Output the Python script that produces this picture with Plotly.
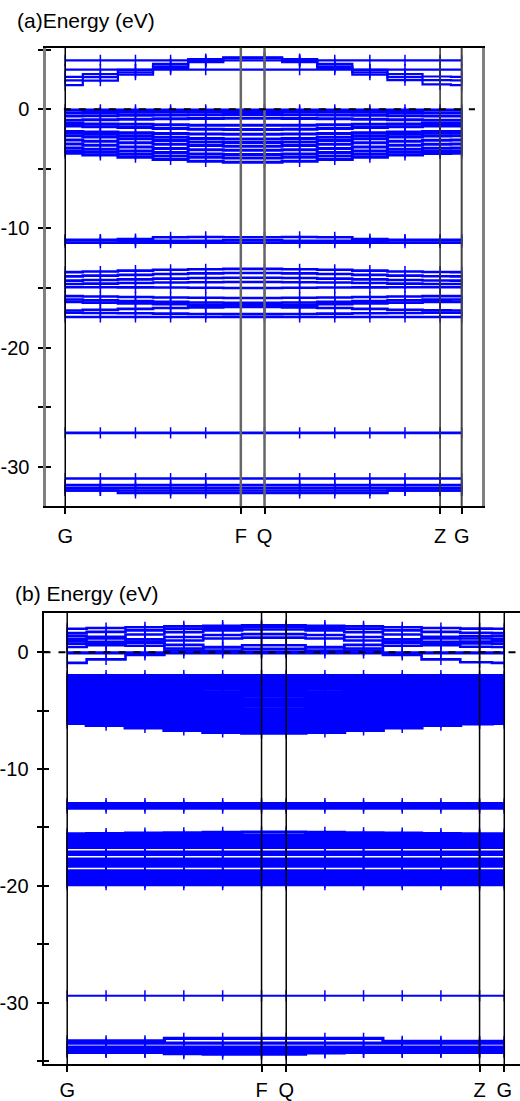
import plotly.graph_objects as go

# ---------------- data: panel (a) ----------------
k_a = [0, 0.2, 0.4, 0.6, 0.8, 1.0, 1.135, 1.335, 1.535, 1.735, 1.935, 2.135, 2.258]
ksym_a = [0, 1.0, 1.135, 2.135, 2.258]
klab = ["G", "F", "Q", "Z", "G"]

flat_a_cond = [4.11, 3.33]
flat_a = [-0.05, -11.2, -17.44, -27.17, -31.0, -31.55, -31.8, -32.0]

disp_a_cond = [
    [2.03, 2.40, 2.90, 3.45, 3.95, 4.28, 4.28, 3.95, 3.45, 2.90, 2.45, 2.08, 2.03],
    [2.42, 2.70, 3.10, 3.60, 4.05, 4.32, 4.32, 4.05, 3.60, 3.10, 2.70, 2.45, 2.42],
    [2.72, 2.95, 3.30, 3.80, 4.20, 4.36, 4.36, 4.20, 3.80, 3.30, 2.95, 2.75, 2.72],
]

disp_a_val = [
    [-0.30, -0.28, -0.25, -0.23, -0.21, -0.20, -0.20, -0.21, -0.23, -0.25, -0.28, -0.30, -0.30],
    [-0.56, -0.54, -0.51, -0.48, -0.46, -0.45, -0.45, -0.46, -0.48, -0.51, -0.54, -0.56, -0.56],
    [-0.92, -0.89, -0.84, -0.80, -0.77, -0.75, -0.75, -0.77, -0.80, -0.84, -0.89, -0.92, -0.92],
    [-1.20, -1.23, -1.27, -1.31, -1.34, -1.35, -1.35, -1.34, -1.31, -1.27, -1.23, -1.20, -1.20],
    [-1.40, -1.46, -1.54, -1.61, -1.67, -1.70, -1.70, -1.67, -1.61, -1.54, -1.46, -1.41, -1.40],
    [-1.86, -1.91, -1.97, -2.03, -2.08, -2.10, -2.10, -2.08, -2.03, -1.97, -1.91, -1.87, -1.86],
    [-2.00, -2.10, -2.23, -2.35, -2.45, -2.50, -2.50, -2.45, -2.35, -2.23, -2.10, -2.02, -2.00],
    [-2.22, -2.34, -2.48, -2.63, -2.74, -2.80, -2.80, -2.74, -2.63, -2.48, -2.34, -2.24, -2.22],
    [-2.58, -2.68, -2.81, -2.94, -3.05, -3.10, -3.10, -3.05, -2.94, -2.81, -2.68, -2.60, -2.58],
    [-2.92, -3.03, -3.16, -3.29, -3.40, -3.45, -3.45, -3.40, -3.29, -3.16, -3.03, -2.94, -2.92],
    [-3.25, -3.36, -3.50, -3.64, -3.75, -3.80, -3.80, -3.75, -3.64, -3.50, -3.36, -3.27, -3.25],
    [-3.50, -3.62, -3.77, -3.92, -4.04, -4.10, -4.10, -4.04, -3.92, -3.77, -3.62, -3.52, -3.50],
    [-3.69, -3.84, -4.03, -4.22, -4.37, -4.45, -4.45, -4.37, -4.22, -4.03, -3.84, -3.71, -3.69],
]

disp_a_deep = [
    [-11.00, -11.00, -10.90, -10.75, -10.72, -10.75, -10.75, -10.72, -10.75, -10.90, -11.00, -11.00, -11.00],
    [-10.95, -10.95, -11.05, -11.05, -11.05, -11.00, -11.00, -11.05, -11.05, -11.05, -10.95, -10.95, -10.95],
    [-13.67, -13.62, -13.55, -13.48, -13.43, -13.40, -13.40, -13.43, -13.48, -13.55, -13.62, -13.66, -13.67],
    [-14.03, -13.97, -13.90, -13.83, -13.78, -13.75, -13.75, -13.78, -13.83, -13.90, -13.97, -14.02, -14.03],
    [-14.39, -14.34, -14.28, -14.22, -14.17, -14.15, -14.15, -14.17, -14.22, -14.28, -14.34, -14.38, -14.39],
    [-14.67, -14.64, -14.59, -14.55, -14.52, -14.50, -14.50, -14.52, -14.55, -14.59, -14.64, -14.67, -14.67],
    [-14.94, -14.94, -14.95, -14.97, -14.99, -15.00, -15.00, -14.99, -14.97, -14.95, -14.94, -14.94, -14.94],
    [-15.69, -15.72, -15.76, -15.80, -15.83, -15.85, -15.85, -15.83, -15.80, -15.76, -15.72, -15.69, -15.69],
    [-15.97, -16.03, -16.10, -16.17, -16.22, -16.25, -16.25, -16.22, -16.17, -16.10, -16.03, -15.98, -15.97],
    [-16.17, -16.23, -16.30, -16.37, -16.42, -16.45, -16.45, -16.42, -16.37, -16.30, -16.23, -16.18, -16.17],
    [-16.89, -16.83, -16.76, -16.69, -16.63, -16.60, -16.60, -16.63, -16.69, -16.76, -16.83, -16.88, -16.89],
    [-17.08, -17.10, -17.13, -17.16, -17.19, -17.20, -17.20, -17.19, -17.16, -17.13, -17.10, -17.08, -17.08],
    [-32.00, -32.00, -32.20, -32.20, -32.20, -32.20, -32.20, -32.20, -32.20, -32.20, -32.00, -32.00, -32.00],
]

# ---------------- data: panel (b) ----------------
k_b = [0, 0.2, 0.4, 0.6, 0.8, 1.0, 1.127, 1.326, 1.525, 1.724, 1.923, 2.122, 2.249]
ksym_b = [0, 1.0, 1.127, 2.122, 2.249]

flat_b = [-0.05, -2.00, -12.95, -13.15, -13.35,
          -15.70, -15.90, -16.10, -16.30, -16.50, -16.70,
          -17.10, -17.30, -17.70, -17.90, -18.10, -18.30,
          -18.70, -18.90, -19.10, -19.30, -19.50, -19.70, -19.90,
          -33.45, -33.80, -34.00, -34.20]
single_b = [-29.40]

disp_b_cond = [
    [2.01, 2.07, 2.14, 2.21, 2.27, 2.30, 2.30, 2.27, 2.21, 2.14, 2.07, 2.02, 2.01],
    [1.64, 1.74, 1.87, 2.00, 2.10, 2.15, 2.15, 2.10, 2.00, 1.87, 1.74, 1.66, 1.64],
    [1.16, 1.32, 1.52, 1.71, 1.87, 1.95, 1.95, 1.87, 1.71, 1.52, 1.32, 1.18, 1.16],
    [0.74, 0.90, 1.10, 1.31, 1.47, 1.55, 1.55, 1.47, 1.31, 1.10, 0.90, 0.76, 0.74],
    [0.45, 0.61, 0.81, 1.01, 1.17, 1.25, 1.25, 1.17, 1.01, 0.81, 0.61, 0.47, 0.45],
    [1.40, 1.18, 0.91, 0.63, 0.41, 0.30, 0.30, 0.41, 0.63, 0.91, 1.18, 1.37, 1.40],
    [0.95, 0.77, 0.55, 0.32, 0.14, 0.05, 0.05, 0.14, 0.32, 0.55, 0.77, 0.92, 0.95],
    [-0.91, -0.61, -0.23, 0.15, 0.45, 0.60, 0.60, 0.45, 0.15, -0.23, -0.61, -0.86, -0.91],
]

disp_b_val = [
    [-2.24, -2.25, -2.26, -2.28, -2.28, -2.29, -2.29, -2.28, -2.28, -2.26, -2.25, -2.24, -2.24],
    [-2.48, -2.50, -2.53, -2.55, -2.57, -2.58, -2.58, -2.57, -2.55, -2.53, -2.50, -2.48, -2.48],
    [-2.72, -2.75, -2.78, -2.82, -2.85, -2.86, -2.86, -2.85, -2.82, -2.78, -2.75, -2.72, -2.72],
    [-2.96, -3.00, -3.05, -3.09, -3.13, -3.15, -3.15, -3.13, -3.09, -3.05, -3.00, -2.97, -2.96],
    [-3.20, -3.25, -3.31, -3.37, -3.42, -3.44, -3.44, -3.42, -3.37, -3.31, -3.25, -3.21, -3.20],
    [-3.43, -3.49, -3.57, -3.64, -3.70, -3.73, -3.73, -3.70, -3.64, -3.57, -3.49, -3.44, -3.43],
    [-3.67, -3.74, -3.83, -3.92, -3.99, -4.02, -4.02, -3.99, -3.92, -3.83, -3.74, -3.68, -3.67],
    [-3.91, -3.99, -4.09, -4.18, -4.26, -4.30, -4.30, -4.26, -4.18, -4.09, -3.99, -3.92, -3.91],
    [-4.15, -4.24, -4.35, -4.46, -4.55, -4.59, -4.59, -4.55, -4.46, -4.35, -4.24, -4.16, -4.15],
    [-4.39, -4.49, -4.61, -4.73, -4.83, -4.88, -4.88, -4.83, -4.73, -4.61, -4.49, -4.40, -4.39],
    [-4.63, -4.74, -4.87, -5.01, -5.12, -5.17, -5.17, -5.12, -5.01, -4.87, -4.74, -4.65, -4.63],
    [-4.87, -4.99, -5.14, -5.28, -5.40, -5.46, -5.46, -5.40, -5.28, -5.14, -4.99, -4.89, -4.87],
    [-5.11, -5.24, -5.39, -5.55, -5.68, -5.74, -5.74, -5.68, -5.55, -5.39, -5.24, -5.13, -5.11],
    [-5.35, -5.49, -5.66, -5.83, -5.96, -6.03, -6.03, -5.96, -5.83, -5.66, -5.49, -5.37, -5.35],
    [-5.59, -5.74, -5.92, -6.10, -6.25, -6.32, -6.32, -6.25, -6.10, -5.92, -5.74, -5.61, -5.59],
    [-5.82, -5.98, -6.18, -6.37, -6.53, -6.61, -6.61, -6.53, -6.37, -6.18, -5.98, -5.84, -5.82],
    [-6.06, -6.23, -6.44, -6.65, -6.82, -6.90, -6.90, -6.82, -6.65, -6.44, -6.23, -6.09, -6.06],
]

disp_b_deep = [
    [-15.55, -15.52, -15.48, -15.45, -15.42, -15.40, -15.40, -15.42, -15.45, -15.48, -15.52, -15.55, -15.55],
    [-33.25, -33.25, -33.25, -33.05, -33.05, -33.05, -33.05, -33.05, -33.05, -33.30, -33.30, -33.30, -33.30],
    [-34.25, -34.25, -34.25, -34.35, -34.40, -34.40, -34.40, -34.30, -34.25, -34.25, -34.25, -34.25, -34.25],
]

ytick_vals = [0, -10, -20, -30]
ytick_text = ["0", "-10", "-20", "-30"]

BLUE = "#0000ff"
FONT = "Liberation Sans, Arial, sans-serif"

fig = go.Figure()


def add_band(k, e, xa, ya, width):
    fig.add_trace(go.Scatter(
        x=k, y=e, mode="lines+markers", xaxis=xa, yaxis=ya,
        line=dict(color=BLUE, width=width, shape="hvh"),
        marker=dict(symbol="line-ns", size=8, color=BLUE,
                    line=dict(width=1.5, color=BLUE)),
        showlegend=False, hoverinfo="skip"))


for lev in flat_a_cond:
    add_band(k_a, [lev] * len(k_a), "x", "y", 2.2)
for band in disp_a_cond:
    add_band(k_a, band, "x", "y", 2.2)
for lev in flat_a:
    add_band(k_a, [lev] * len(k_a), "x", "y", 2.6)
for band in disp_a_val:
    add_band(k_a, band, "x", "y", 3)
for band in disp_a_deep:
    add_band(k_a, band, "x", "y", 2.6)
for lev in flat_b:
    add_band(k_b, [lev] * len(k_b), "x2", "y2", 3.2)
for lev in single_b:
    add_band(k_b, [lev] * len(k_b), "x2", "y2", 2)
for band in disp_b_cond:
    add_band(k_b, band, "x2", "y2", 2.6)
for band in disp_b_val:
    add_band(k_b, band, "x2", "y2", 4)
for band in disp_b_deep:
    add_band(k_b, band, "x2", "y2", 3.2)

W, H = 520, 1101
dom_xa = [40 / W, 481 / W]
dom_ya = [1 - 510 / H, 1 - 48 / H]
dom_xb = [37 / W, 1.0]
dom_yb = [1 - 1072 / H, 1 - 617 / H]

common_x = dict(tickmode="array", ticks="outside", ticklen=6, tickwidth=2,
                tickcolor="black", showline=True, linecolor="black", linewidth=2,
                mirror=True, showgrid=False, zeroline=False,
                tickfont=dict(family=FONT, size=20, color="black"))

fig.update_layout(
    width=W, height=H, margin=dict(l=0, r=0, t=0, b=0),
    paper_bgcolor="white", plot_bgcolor="white",
    xaxis=dict(domain=dom_xa, anchor="y", range=[-0.107, 2.371],
               tickvals=ksym_a, ticktext=klab, ticklabelstandoff=5, **common_x),
    yaxis=dict(domain=dom_ya, anchor="x", range=[-33.33, 5.17],
               tickmode="array", tickvals=ytick_vals, ticktext=ytick_text,
               ticks="outside", ticklen=5, tickwidth=2, tickcolor="black",
               minor=dict(tickmode="linear", tick0=0, dtick=5, ticks="outside",
                          ticklen=5, tickwidth=2, tickcolor="black"),
               showline=True, linecolor="#808080", linewidth=3, mirror=True,
               showgrid=False, zeroline=False,
               tickfont=dict(family=FONT, size=20, color="black"),
               ticklabelstandoff=5),
    yaxis3=dict(overlaying="y", anchor="x", range=[-33.33, 5.17],
                tickmode="array", tickvals=ytick_vals, showticklabels=False,
                ticks="inside", ticklen=5, tickwidth=2, tickcolor="black",
                minor=dict(tickmode="linear", tick0=0, dtick=5, ticks="inside",
                           ticklen=5, tickwidth=2, tickcolor="black"),
                showline=False, showgrid=False, zeroline=False),
    xaxis2=dict(domain=dom_xb, anchor="y2", range=[-0.122, 2.33],
                tickvals=ksym_b, ticktext=klab, ticklabelstandoff=1, **common_x),
    yaxis2=dict(domain=dom_yb, anchor="x2", range=[-35.26, 3.40],
                tickmode="array", tickvals=ytick_vals, ticktext=ytick_text,
                ticks="outside", ticklen=5, tickwidth=2, tickcolor="black",
                minor=dict(tickmode="linear", tick0=0, dtick=5, ticks="outside",
                           ticklen=5, tickwidth=2, tickcolor="black"),
                showline=True, linecolor="black", linewidth=2, mirror=False,
                showgrid=False, zeroline=False,
                tickfont=dict(family=FONT, size=20, color="black"),
                ticklabelstandoff=4),
    yaxis4=dict(overlaying="y2", anchor="x2", range=[-35.26, 3.40],
                tickmode="array", tickvals=ytick_vals, showticklabels=False,
                ticks="inside", ticklen=5, tickwidth=2, tickcolor="black",
                minor=dict(tickmode="linear", tick0=0, dtick=5, ticks="inside",
                           ticklen=5, tickwidth=2, tickcolor="black"),
                showline=False, showgrid=False, zeroline=False),
)

# dummy traces so overlay axes render
fig.add_trace(go.Scatter(x=[None], y=[None], xaxis="x", yaxis="y3",
                         showlegend=False, hoverinfo="skip"))
fig.add_trace(go.Scatter(x=[None], y=[None], xaxis="x2", yaxis="y4",
                         showlegend=False, hoverinfo="skip"))

# high-symmetry vertical lines
styles_a = [("black", 1.5), ("#666666", 2.5), ("#666666", 2.5), ("#333333", 1.5), ("#444444", 2)]
for kv, (c, w) in zip(ksym_a, styles_a):
    fig.add_shape(type="line", xref="x", yref="y domain", x0=kv, x1=kv, y0=0, y1=1,
                  line=dict(color=c, width=w), layer="above")
for kv in ksym_b:
    fig.add_shape(type="line", xref="x2", yref="y2 domain", x0=kv, x1=kv, y0=0, y1=1,
                  line=dict(color="black", width=1.5), layer="above")

# Fermi level dashed lines
fig.add_shape(type="line", xref="x domain", yref="y", x0=0.04, x1=0.985, y0=0, y1=0,
              line=dict(color="black", width=2, dash="7px,8px"), layer="above")
fig.add_shape(type="line", xref="x2 domain", yref="y2", x0=0.0, x1=1.0, y0=0, y1=0,
              line=dict(color="black", width=2, dash="7px,8px"), layer="above")

fig.add_annotation(text="(a)Energy (eV)", xref="paper", yref="paper",
                   x=8 / W, y=1 - 21 / H, xanchor="left", yanchor="middle",
                   showarrow=False, font=dict(family=FONT, size=21, color="black"))
fig.add_annotation(text="(b) Energy (eV)", xref="paper", yref="paper",
                   x=6 / W, y=1 - 598 / H, xanchor="left", yanchor="middle",
                   showarrow=False, font=dict(family=FONT, size=21, color="black"))

fig.write_html("out.html", config={"displayModeBar": False},
               post_script="document.body.style.margin='0px';document.body.style.overflow='hidden';")
